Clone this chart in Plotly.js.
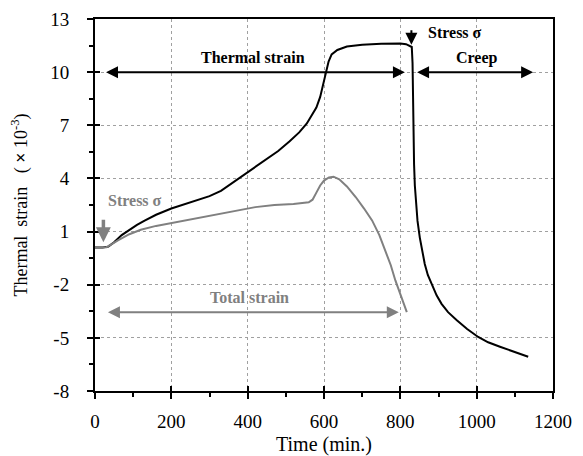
<!DOCTYPE html>
<html>
<head>
<meta charset="utf-8">
<script src="https://cdn.plot.ly/plotly-3.0.1.min.js"></script>
<style>html,body{margin:0;padding:0;background:#fff;}#chart{width:583px;height:456px;}</style>
</head>
<body>
<div id="chart"></div>
<script>
// Thermal strain curve (black)
var thermalTime = [0, 20, 35, 50, 70, 90, 110, 130, 160, 200, 250, 300, 330, 360, 400, 440, 480, 510, 535, 555, 570, 580, 590, 598, 605, 612, 620, 635, 660, 700, 750, 800, 815, 825, 830, 832, 833, 834, 836, 838, 841, 845, 851, 857, 864, 872, 882, 895, 908, 925, 948, 975, 1004, 1030, 1061, 1100, 1135];
var thermalStrain = [0.1, 0.1, 0.15, 0.4, 0.8, 1.1, 1.38, 1.62, 1.95, 2.3, 2.65, 3.0, 3.3, 3.75, 4.3, 4.9, 5.55, 6.1, 6.6, 7.1, 7.6, 8.0, 8.6, 9.3, 10.0, 10.6, 11.0, 11.25, 11.45, 11.55, 11.6, 11.62, 11.58, 11.5, 11.42, 10.5, 8.5, 6.6, 4.8, 3.6, 2.5, 1.6, 0.66, -0.1, -0.83, -1.45, -2.0, -2.6, -3.08, -3.55, -4.0, -4.5, -4.95, -5.25, -5.5, -5.8, -6.07];
// Total strain curve (grey)
var totalTime = [0, 30, 45, 60, 90, 120, 160, 200, 250, 300, 340, 380, 420, 470, 520, 560, 570, 580, 590, 600, 613, 625, 640, 660, 683, 705, 726, 745, 761, 775, 787, 800, 817];
var totalStrain = [0.1, 0.12, 0.3, 0.5, 0.85, 1.1, 1.32, 1.48, 1.66, 1.86, 2.03, 2.22, 2.38, 2.5, 2.56, 2.65, 2.8, 3.2, 3.6, 3.88, 4.06, 4.1, 3.95, 3.55, 2.95, 2.3, 1.63, 0.8, -0.06, -0.9, -1.76, -2.5, -3.55];
var xTicks = [0, 200, 400, 600, 800, 1000, 1200];
var yTicks = [-8, -5, -2, 1, 4, 7, 10, 13];

var serif = 'Liberation Serif';
var grey = '#808080';
var nb = '\u00a0';

var traces = [
  {x: thermalTime, y: thermalStrain, type: 'scatter', mode: 'lines', line: {color: '#000000', width: 2}, name: 'Thermal strain', showlegend: false},
  {x: totalTime, y: totalStrain, type: 'scatter', mode: 'lines', line: {color: grey, width: 2}, name: 'Total strain', showlegend: false},
  {x: [], y: [], xaxis: 'x2', yaxis: 'y2', type: 'scatter', mode: 'lines', showlegend: false, hoverinfo: 'skip'}
];

var axCommon = {
  showline: true, linecolor: '#000', linewidth: 2, mirror: true,
  ticks: 'outside', ticklen: 6, tickwidth: 2, tickcolor: '#000',
  showgrid: true, gridcolor: '#a0a0a0', gridwidth: 1, griddash: '3px,3px',
  zeroline: false,
  tickfont: {family: serif, size: 19, color: '#000'}
};

var yTitle = 'Thermal' + nb + nb + 'strain' + nb + nb + nb + '(' + nb + '<b>×</b>' + nb + '10<sup>-3</sup>)' + nb + nb + nb + nb + nb;

var layout = {
  width: 583, height: 456,
  font: {family: serif, color: '#000'},
  margin: {l: 95, r: 30, t: 19, b: 65},
  paper_bgcolor: '#fff', plot_bgcolor: '#fff',
  showlegend: false,
  xaxis: Object.assign({}, axCommon, {
    range: [0, 1200], tickvals: xTicks, ticktext: xTicks.map(String),
    minor: {ticks: 'outside', ticklen: 4, tickwidth: 2, tickcolor: '#000', dtick: 100, tick0: 0, showgrid: false},
    ticklabelstandoff: 6,
    title: {text: 'Time (min.)', font: {family: serif, size: 20, color: '#000'}, standoff: 6}
  }),
  yaxis: Object.assign({}, axCommon, {
    range: [-8, 13], tickvals: yTicks, ticktext: yTicks.map(String),
    minor: {ticks: 'outside', ticklen: 4, tickwidth: 2, tickcolor: '#000', dtick: 1.5, tick0: -8, showgrid: false},
    ticklabelstandoff: 14,
    title: {text: yTitle, font: {family: serif, size: 18, color: '#000'}, standoff: 18}
  }),
  xaxis2: {overlaying: 'x', anchor: 'y2', range: [0, 1200], tickvals: xTicks, ticks: 'inside', ticklen: 5, tickwidth: 2, tickcolor: '#000', showticklabels: false, showgrid: false, showline: false, zeroline: false},
  yaxis2: {overlaying: 'y', anchor: 'x2', range: [-8, 13], tickvals: yTicks, ticks: 'inside', ticklen: 5, tickwidth: 2, tickcolor: '#000', showticklabels: false, showgrid: false, showline: false, zeroline: false},
  annotations: [
    // Thermal strain double arrow
    {x: 812, y: 10, ax: 21, ay: 10, xref: 'x', yref: 'y', axref: 'x', ayref: 'y', showarrow: true, arrowside: 'end+start', arrowhead: 2, arrowsize: 1.2, arrowwidth: 2, arrowcolor: '#000', text: ' '},
    {x: 414, y: 10.8, xref: 'x', yref: 'y', showarrow: false, text: '<b>Thermal strain</b>', font: {family: serif, size: 16, color: '#000'}},
    // Creep double arrow
    {x: 1148, y: 10, ax: 836, ay: 10, xref: 'x', yref: 'y', axref: 'x', ayref: 'y', showarrow: true, arrowside: 'end+start', arrowhead: 2, arrowsize: 1.2, arrowwidth: 2, arrowcolor: '#000', text: ' '},
    {x: 1001, y: 10.8, xref: 'x', yref: 'y', showarrow: false, text: '<b>Creep</b>', font: {family: serif, size: 16, color: '#000'}},
    // Stress arrow (black)
    {x: 829, y: 11.55, ax: 829, ay: 12.85, xref: 'x', yref: 'y', axref: 'x', ayref: 'y', showarrow: true, arrowhead: 2, arrowsize: 1.2, arrowwidth: 2, arrowcolor: '#000', text: ' '},
    {x: 868, y: 12.25, xref: 'x', yref: 'y', xanchor: 'left', showarrow: false, text: '<b>Stress σ</b>', font: {family: serif, size: 16, color: '#000'}},
    // Stress arrow (grey)
    {x: 22, y: 0.4, ax: 22, ay: 2.15, xref: 'x', yref: 'y', axref: 'x', ayref: 'y', showarrow: true, arrowhead: 2, arrowsize: 0.85, arrowwidth: 3.5, arrowcolor: grey, text: ' '},
    {x: 28, y: 2.78, xref: 'x', yref: 'y', xanchor: 'left', showarrow: false, text: '<b>Stress σ</b>', font: {family: serif, size: 16, color: grey}},
    // Total strain double arrow
    {x: 796, y: -3.56, ax: 26, ay: -3.56, xref: 'x', yref: 'y', axref: 'x', ayref: 'y', showarrow: true, arrowside: 'end+start', arrowhead: 2, arrowsize: 1.2, arrowwidth: 2, arrowcolor: grey, text: ' '},
    {x: 404, y: -2.72, xref: 'x', yref: 'y', showarrow: false, text: '<b>Total strain</b>', font: {family: serif, size: 16, color: grey}}
  ]
};

Plotly.newPlot('chart', traces, layout, {displayModeBar: false, staticPlot: true});
</script>
</body>
</html>
